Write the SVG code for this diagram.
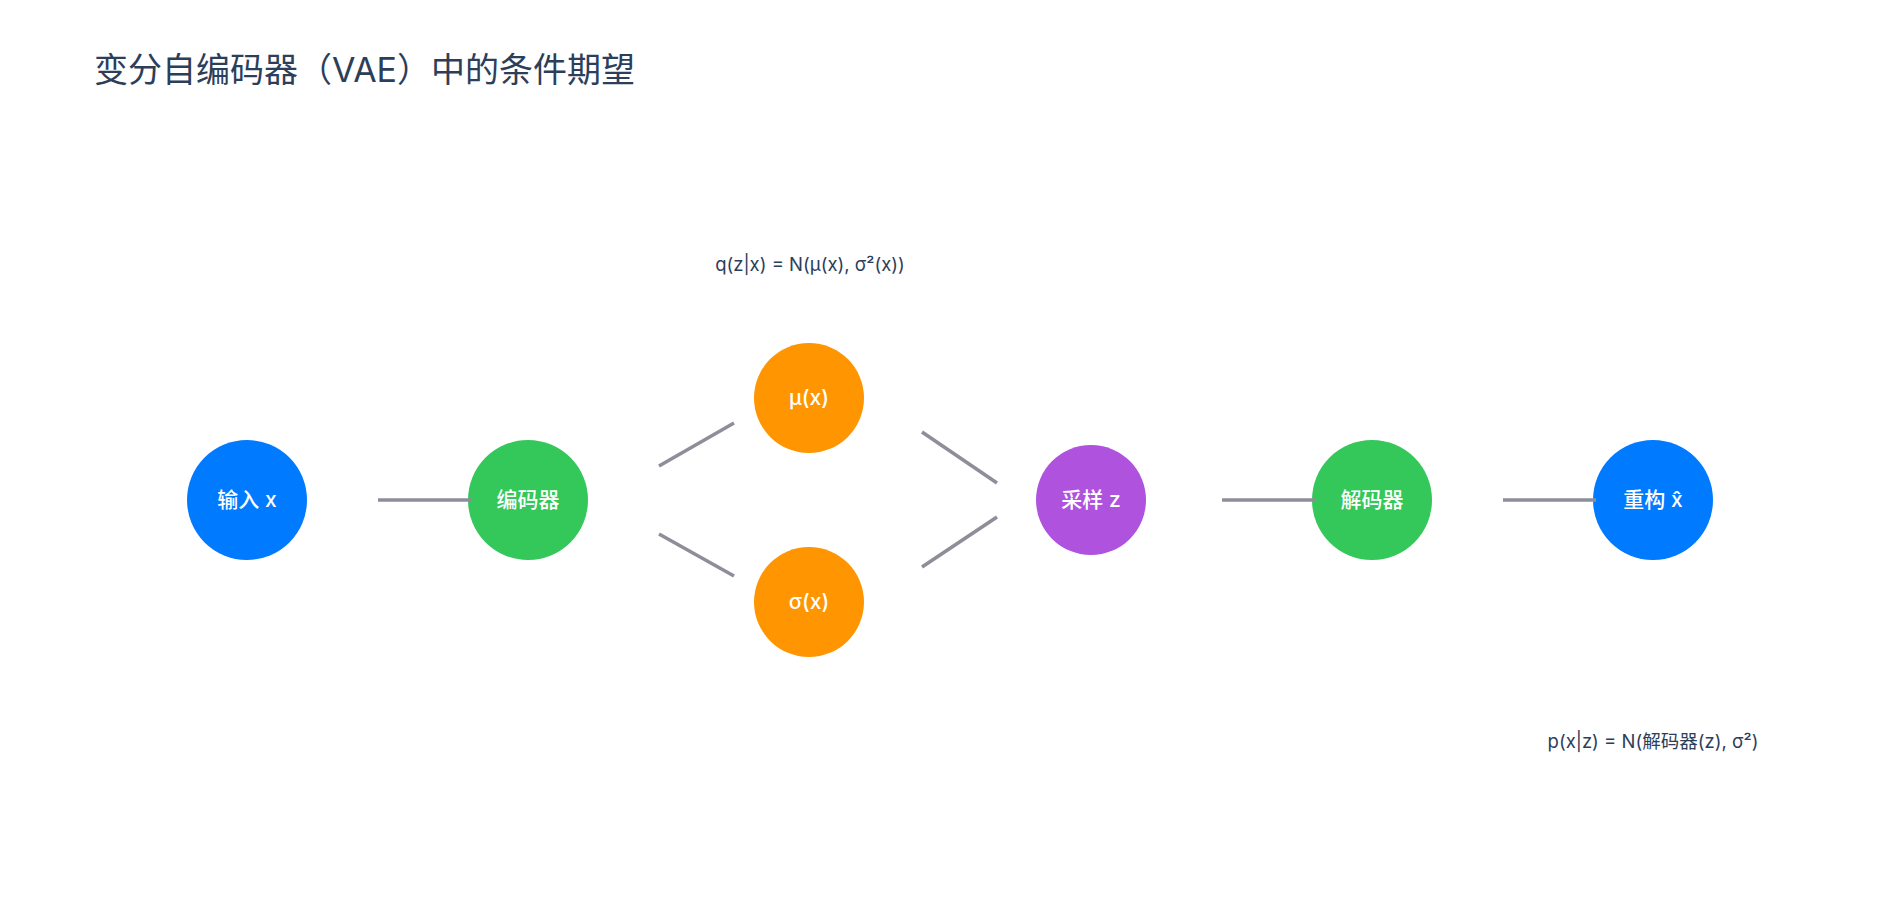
<svg xmlns="http://www.w3.org/2000/svg" width="1900" height="900" viewBox="0 0 1900 900">
<style>
text{font-family:Inter,"Noto Sans CJK SC",sans-serif}
.title{font-size:34px;fill:#2c3e5a}
.lbl{font-size:21px;fill:#ffffff;font-weight:500;text-anchor:middle}
.note{font-size:18.5px;fill:#2c3e5a;text-anchor:middle}
.edge{stroke:#8e8e9a;stroke-width:3.5;fill:none}
</style>
<rect width="1900" height="900" fill="#ffffff"/>
<text class="title" x="94" y="82">变分自编码器（VAE）中的条件期望</text>
<g id="node-input"><circle cx="247" cy="500" r="60" fill="#007aff"/><text class="lbl" x="247" y="507">输入 x</text></g>
<g id="node-encoder"><circle cx="528" cy="500" r="60" fill="#34c759"/><text class="lbl" x="528" y="507">编码器</text></g>
<g id="node-mu"><circle cx="809" cy="398" r="55" fill="#ff9500"/><text class="lbl" x="809" y="405">μ(x)</text></g>
<g id="node-sigma"><circle cx="809" cy="602" r="55" fill="#ff9500"/><text class="lbl" x="809" y="609">σ(x)</text></g>
<g id="node-sample"><circle cx="1091" cy="500" r="55" fill="#af52de"/><text class="lbl" x="1091" y="507">采样 z</text></g>
<g id="node-decoder"><circle cx="1372" cy="500" r="60" fill="#34c759"/><text class="lbl" x="1372" y="507">解码器</text></g>
<g id="node-recon"><circle cx="1653" cy="500" r="60" fill="#007aff"/><text class="lbl" x="1653" y="507">重构 x̂</text></g>
<g id="connectors">
<line class="edge" x1="378" y1="500" x2="472" y2="500"/>
<line class="edge" x1="659" y1="466" x2="734" y2="423"/>
<line class="edge" x1="659" y1="534" x2="734" y2="576"/>
<line class="edge" x1="922" y1="432" x2="997" y2="483"/>
<line class="edge" x1="922" y1="567" x2="997" y2="517"/>
<line class="edge" x1="1222" y1="500" x2="1315" y2="500"/>
<line class="edge" x1="1503" y1="500" x2="1596" y2="500"/>
</g>
<text class="note" x="810" y="271">q(z|x) = N(μ(x), σ²(x))</text>
<text class="note" x="1653" y="748">p(x|z) = N(解码器(z), σ²)</text>
</svg>
